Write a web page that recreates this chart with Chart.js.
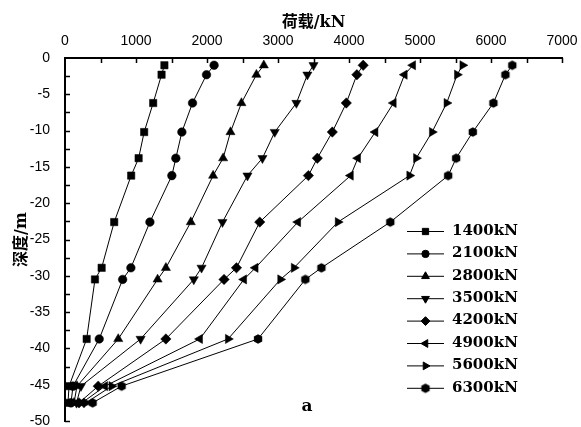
<!DOCTYPE html>
<html>
<head>
<meta charset="utf-8">
<script src="https://cdn.jsdelivr.net/npm/chart.js@4.4.1/dist/chart.umd.min.js"></script>
<style>
  html, body { margin: 0; padding: 0; background: #fff; }
  #wrap { width: 581px; height: 427px; }
</style>
</head>
<body>
<div id="wrap"><canvas id="c" width="581" height="427"></canvas></div>
<script>
// Depth of each measuring section along the pile (m)
const depths = [-1.0, -2.3, -6.2, -10.2, -13.8, -16.2, -22.6, -28.9, -30.5, -38.7, -45.2, -47.5];

// Axial force (kN) at each section, one array per applied top load
const load1400 = [1400, 1360, 1242, 1115, 1037, 932, 693, 516, 422, 305, 57, 42];
const load2100 = [2100, 1993, 1796, 1646, 1561, 1505, 1196, 928, 812, 482, 113, 84];
const load2800 = [2800, 2696, 2485, 2331, 2227, 2086, 1772, 1421, 1304, 750, 169, 127];
const load3500 = [3500, 3414, 3259, 2954, 2781, 2570, 2218, 1923, 1814, 1065, 225, 162];
const load4200 = [4200, 4111, 3962, 3765, 3554, 3428, 2743, 2415, 2240, 1421, 468, 197];
const load4900 = [4900, 4782, 4627, 4370, 4125, 4023, 3281, 2682, 2520, 1899, 563, 239];
const load5600 = [5600, 5523, 5376, 5170, 4947, 4852, 3844, 3225, 3034, 2297, 657, 295];
const load6300 = [6300, 6203, 6034, 5743, 5509, 5397, 4581, 3611, 3385, 2719, 797, 389];

const seriesLabels = ['1400kN', '2100kN', '2800kN', '3500kN', '4200kN', '4900kN', '5600kN', '6300kN'];
const seriesValues = [load1400, load2100, load2800, load3500, load4200, load4900, load5600, load6300];

// Filled hexagon used as a custom point style
function makeHexagon(r) {
  const size = Math.ceil(r * 2 + 2);
  const cv = document.createElement('canvas');
  cv.width = size; cv.height = size;
  const g = cv.getContext('2d');
  g.fillStyle = '#000';
  g.beginPath();
  for (let i = 0; i < 6; i++) {
    const a = Math.PI / 6 + i * Math.PI / 3;
    const px = size / 2 + r * Math.cos(a);
    const py = size / 2 + r * Math.sin(a);
    if (i === 0) g.moveTo(px, py); else g.lineTo(px, py);
  }
  g.closePath();
  g.fill();
  return cv;
}
const hexagon = makeHexagon(4.8);

const markerStyles = ['rect', 'circle', 'triangle', 'triangle', 'rectRot', 'triangle', 'triangle', hexagon];
const markerRotation = [0, 0, 0, 180, 0, -90, 90, 0];
const markerRadius = [5.2, 4.3, 5.3, 5.3, 5.2, 5.3, 5.3, 5];

const datasets = seriesLabels.map((label, i) => ({
  label: label,
  data: depths.map((d, k) => ({ x: seriesValues[i][k], y: d })),
  showLine: true,
  borderColor: '#000',
  borderWidth: 1,
  backgroundColor: '#000',
  pointStyle: markerStyles[i],
  rotation: markerRotation[i],
  pointRadius: markerRadius[i],
  pointHoverRadius: markerRadius[i],
  pointBorderWidth: 0.5,
  pointBorderColor: '#000',
  pointBackgroundColor: '#000',
  tension: 0
}));

const tickFont = { family: '"Liberation Sans", Arial, sans-serif', size: 14 };
const titleFont = { family: '"DejaVu Serif", "Noto Sans CJK SC", serif', size: 16, weight: 'bold' };

// Short inward tick marks on the top and left axes, plus the in-plot legend and panel letter
const decorations = {
  id: 'decorations',
  afterDraw(chart) {
    const ctx = chart.ctx;
    const xs = chart.scales.x, ys = chart.scales.y;
    const area = chart.chartArea;
    ctx.save();
    ctx.strokeStyle = '#000';
    ctx.lineWidth = 1.5;
    ctx.beginPath();
    for (let v = xs.min + 500; v <= xs.max + 1e-6; v += 500) {
      const px = Math.round(xs.getPixelForValue(v)) + 0.5;
      ctx.moveTo(px, area.top);
      ctx.lineTo(px, area.top + 5);
    }
    for (let v = ys.max - 2.5; v >= ys.min - 1e-6; v -= 2.5) {
      const py = Math.round(ys.getPixelForValue(v)) + 0.5;
      ctx.moveTo(area.left, py);
      ctx.lineTo(area.left + 5, py);
    }
    ctx.stroke();

    // legend
    const lx0 = 407, lx1 = 444, mx = 425.5, tx = 452;
    let ly = 231;
    const step = 22.4;
    ctx.font = 'bold 15px "DejaVu Serif", serif';
    ctx.textBaseline = 'middle';
    ctx.textAlign = 'left';
    chart.data.datasets.forEach((ds) => {
      ctx.strokeStyle = '#000';
      ctx.lineWidth = 1;
      ctx.beginPath();
      ctx.moveTo(lx0, ly + 0.5);
      ctx.lineTo(lx1, ly + 0.5);
      ctx.stroke();
      ctx.fillStyle = '#000';
      Chart.helpers.drawPoint(ctx, {
        pointStyle: ds.pointStyle,
        rotation: ds.rotation,
        radius: ds.pointRadius * 0.85,
        borderWidth: 0.5
      }, mx, ly + 0.5);
      ctx.fillStyle = '#000';
      ctx.fillText(ds.label, tx, ly);
      ly += step;
    });

    ctx.font = 'bold 17px "DejaVu Serif", serif';
    ctx.textAlign = 'center';
    ctx.fillText('a', 307, 407);
    ctx.restore();
  }
};

new Chart(document.getElementById('c'), {
  type: 'scatter',
  data: { datasets },
  options: {
    responsive: false,
    animation: false,
    devicePixelRatio: 1,
    layout: { padding: { left: 0, top: 0, right: 19, bottom: 6 } },
    plugins: { legend: { display: false }, tooltip: { enabled: false } },
    scales: {
      x: {
        type: 'linear',
        position: 'top',
        min: 0, max: 7000,
        ticks: { stepSize: 1000, color: '#000', font: tickFont, padding: 0, maxRotation: 0,
                 callback: (v) => String(v) },
        grid: { display: false },
        border: { display: true, color: '#000', width: 2 },
        title: { display: true, text: '荷载/kN', color: '#000', font: titleFont, padding: { top: 13, bottom: 0 } },
        afterFit(scale) {
          scale.height = 58;
          scale.paddingLeft = 0;
          scale.paddingRight = 0;
        }
      },
      y: {
        type: 'linear',
        min: -50, max: 0,
        ticks: { stepSize: 5, color: '#000', font: tickFont, padding: 7, callback: (v) => String(v) },
        grid: { display: false },
        border: { display: true, color: '#000', width: 2 },
        title: { display: true, text: '深度/m', color: '#000', font: titleFont, padding: { top: 12, bottom: 0 } },
        afterFit(scale) {
          scale.width = 65;
          scale.paddingTop = 0;
          scale.paddingBottom = 0;
        }
      }
    }
  },
  plugins: [decorations]
});
</script>
</body>
</html>
